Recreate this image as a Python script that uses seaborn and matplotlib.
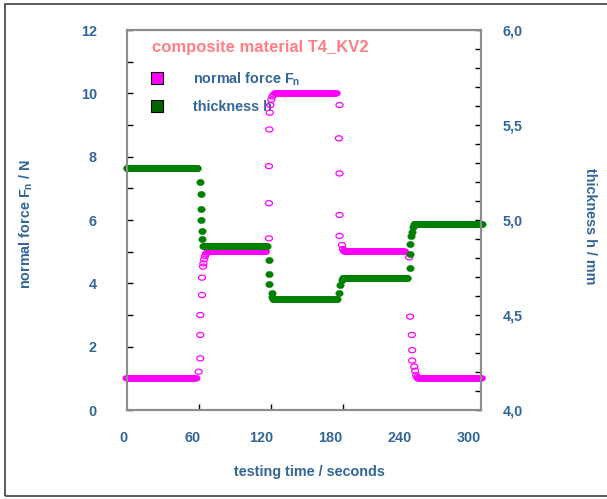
import numpy as np
import pandas as pd
import matplotlib
matplotlib.use("Agg")
import matplotlib.pyplot as plt
from matplotlib.path import Path
from matplotlib.lines import Line2D
from matplotlib.patches import Rectangle
import seaborn as sns

# ---- normal force F_n (N): steady load levels (start s, end s, level)
force_plateau_start = [0, 68, 124, 182, 243]
force_plateau_end = [58, 116, 175, 232, 296]
force_plateau_level = [1.0, 5.0, 10.0, 5.0, 1.0]

# samples logged while the load was being changed
force_step_time = [60.0, 61.4, 61.4, 61.4, 62.8, 62.8, 63.7, 64.0, 64.6, 65.3, 66.2, 67.0,
                   118.6, 118.6, 118.6, 119.0, 119.3, 119.8, 120.6, 121.5, 122.6,
                   177.5, 177.0, 177.5, 177.5, 177.5, 179.5, 180.4, 181.2,
                   235.6, 236.4, 237.8, 238.1, 238.1, 239.8, 240.6, 241.4, 242.2]
force_step_value = [1.21, 1.63, 2.37, 3.00, 3.63, 4.18, 4.53, 4.63, 4.76, 4.86, 4.93, 4.97,
                    5.42, 6.53, 7.70, 8.86, 9.39, 9.63, 9.80, 9.90, 9.96,
                    9.63, 8.58, 7.47, 6.16, 5.50, 5.21, 5.08, 5.03,
                    4.82, 2.95, 2.37, 1.89, 1.56, 1.37, 1.24, 1.10, 1.04]

# ---- thickness h (mm)
thick_plateau_start = [0, 64, 122, 180, 240]
thick_plateau_end = [59, 117, 175, 234, 296]
thick_plateau_level = [5.272, 4.865, 4.585, 4.693, 4.980]

thick_step_time = [60.8, 62.0, 62.0, 62.0, 63.1, 63.1,
                   118.9, 118.6, 118.6, 120.8, 121.5,
                   176.9, 177.8, 179.4,
                   236.4, 236.4, 236.4, 237.3, 237.8, 239.0]
thick_step_value = [5.202, 5.135, 5.056, 5.000, 4.942, 4.898,
                    4.790, 4.716, 4.663, 4.614, 4.597,
                    4.614, 4.658, 4.684,
                    4.749, 4.821, 4.872, 4.916, 4.938, 4.962]

x_tick_marks = [60, 120, 180]
x_tick_labels = [0, 60, 120, 180, 240, 300]
left_ticks = [0, 2, 4, 6, 8, 10, 12]
right_ticks = [4.0, 4.5, 5.0, 5.5, 6.0]
right_tick_labels = ["4,0", "4,5", "5,0", "5,5", "6,0"]

SAMPLE_STEP = 0.5  # logging interval during steady phases (s)


def logged_series(starts, ends, levels, step_t, step_v, name):
    t_parts, v_parts = [], []
    for s, e, lv in zip(starts, ends, levels):
        t = np.arange(s, e + SAMPLE_STEP / 2, SAMPLE_STEP)
        t_parts.append(t)
        v_parts.append(np.full(t.size, lv))
    t_parts.append(np.asarray(step_t, float))
    v_parts.append(np.asarray(step_v, float))
    df = pd.DataFrame({"time": np.concatenate(t_parts), name: np.concatenate(v_parts)})
    return df.sort_values("time").reset_index(drop=True)


force = logged_series(force_plateau_start, force_plateau_end, force_plateau_level,
                      force_step_time, force_step_value, "force")
thick = logged_series(thick_plateau_start, thick_plateau_end, thick_plateau_level,
                      thick_step_time, thick_step_value, "thickness")

sns.set_theme(style="white")
plt.rcParams["font.family"] = ["Liberation Sans", "DejaVu Sans"]
plt.rcParams["font.weight"] = "bold"
plt.rcParams["axes.labelweight"] = "bold"
plt.rcParams["mathtext.fontset"] = "custom"
plt.rcParams["mathtext.rm"] = "Liberation Sans:bold"
plt.rcParams["mathtext.it"] = "Liberation Sans:bold"
plt.rcParams["mathtext.bf"] = "Liberation Sans:bold"

BLUE = "#336699"
MAGENTA = "#FF00FF"
GREEN = "#008000"
SPINE = "#8C8C8C"
FS = 10.4


def ellipse_marker(aspect):
    th = np.linspace(0, 2 * np.pi, 48)
    return Path(np.column_stack([np.cos(th), aspect * np.sin(th)]), closed=True)


W, H = 607, 499
fig = plt.figure(figsize=(W / 100, H / 100), dpi=100)
ax = fig.add_axes([126.7 / W, 1 - 410 / H, 354.3 / W, 380 / H])
ax2 = ax.twinx()

sns.scatterplot(data=force, x="time", y="force", ax=ax, marker=ellipse_marker(0.72),
                s=26, color=MAGENTA, facecolor="none", edgecolor=MAGENTA,
                linewidth=0.9, clip_on=False, zorder=6, legend=False)
sns.scatterplot(data=thick, x="time", y="thickness", ax=ax2, marker=ellipse_marker(0.86),
                s=30, color=GREEN, edgecolor=GREEN, linewidth=0.2,
                clip_on=False, legend=False)

# left axis: normal force
ax.set_xlim(0, 295.5)
ax.set_ylim(0, 12)
ax.set_yticks(left_ticks)
ax.set_yticks(np.arange(1, 12, 2), minor=True)
ax.tick_params(axis="y", which="both", direction="in", length=4, width=1,
               color="black", left=True, labelcolor=BLUE, labelsize=FS, pad=21.5)
ax.set_xticks(x_tick_marks)
ax.tick_params(axis="x", direction="in", length=4, width=1, color="black",
               bottom=True, labelbottom=False)
ax.set_ylabel("normal force F$_\\mathrm{n}$ / N", color=BLUE, fontsize=FS, va="center")
ax.yaxis.set_label_coords(-0.284, 0.489)
ax.set_xlabel("testing time / seconds", color=BLUE, fontsize=FS, va="center")
ax.xaxis.set_label_coords(0.517, -0.162)

# time scale labels, printed on their own strip below the plot
lab = fig.add_axes([123.3 / W, 1 - 412 / H, 345.4 / W, 1 / H])
lab.set_xlim(0, 300)
lab.set_xticks(x_tick_labels)
lab.set_yticks([])
lab.tick_params(axis="x", length=0, pad=14.0, labelsize=FS, labelcolor=BLUE, bottom=True)
lab.patch.set_visible(False)
for sp in lab.spines.values():
    sp.set_visible(False)

# right axis: thickness
ax2.set_ylim(4.0, 6.0)
ax2.set_yticks(right_ticks)
ax2.set_yticklabels(right_tick_labels)
ax2.set_yticks(np.arange(4.1, 6.0, 0.1), minor=True)
ax2.tick_params(axis="y", which="both", direction="in", length=4, width=1,
                color="black", right=True, labelcolor=BLUE, labelsize=FS, pad=15.5)
ax2.set_ylabel("thickness h / mm", color=BLUE, fontsize=FS, rotation=-90, va="center")
ax2.yaxis.set_label_coords(1.308, 0.484)

for a in (ax, ax2):
    for sp in a.spines.values():
        sp.set_color(SPINE)
        sp.set_linewidth(1.5)
    a.grid(False)

ax.text(0.071, 0.953, "composite material T4_KV2", transform=ax.transAxes,
        color="#FF7F86", fontsize=12, fontweight="bold", ha="left", va="center")

handles = [Line2D([], [], ls="none", marker="s", markersize=8.5, markerfacecolor=MAGENTA,
                  markeredgecolor="black", markeredgewidth=0.8),
           Line2D([], [], ls="none", marker="s", markersize=8.5, markerfacecolor="#006400",
                  markeredgecolor="black", markeredgewidth=0.8)]
leg = ax.legend(handles, ["normal force F$_\\mathrm{n}$", "thickness h"],
                loc="upper left", bbox_to_anchor=(0.065, 0.894), frameon=False,
                borderpad=0, borderaxespad=0, handlelength=1.0, handletextpad=2.0,
                labelspacing=0.85, prop={"size": FS, "weight": "bold"}, labelcolor=BLUE)
leg.set_zorder(2)

fig.add_artist(Rectangle((5 / W, 3 / H), 1.0, 492 / H, transform=fig.transFigure,
                         fill=False, edgecolor="#404040", linewidth=1.2))

fig.savefig("out.png", dpi=100)
